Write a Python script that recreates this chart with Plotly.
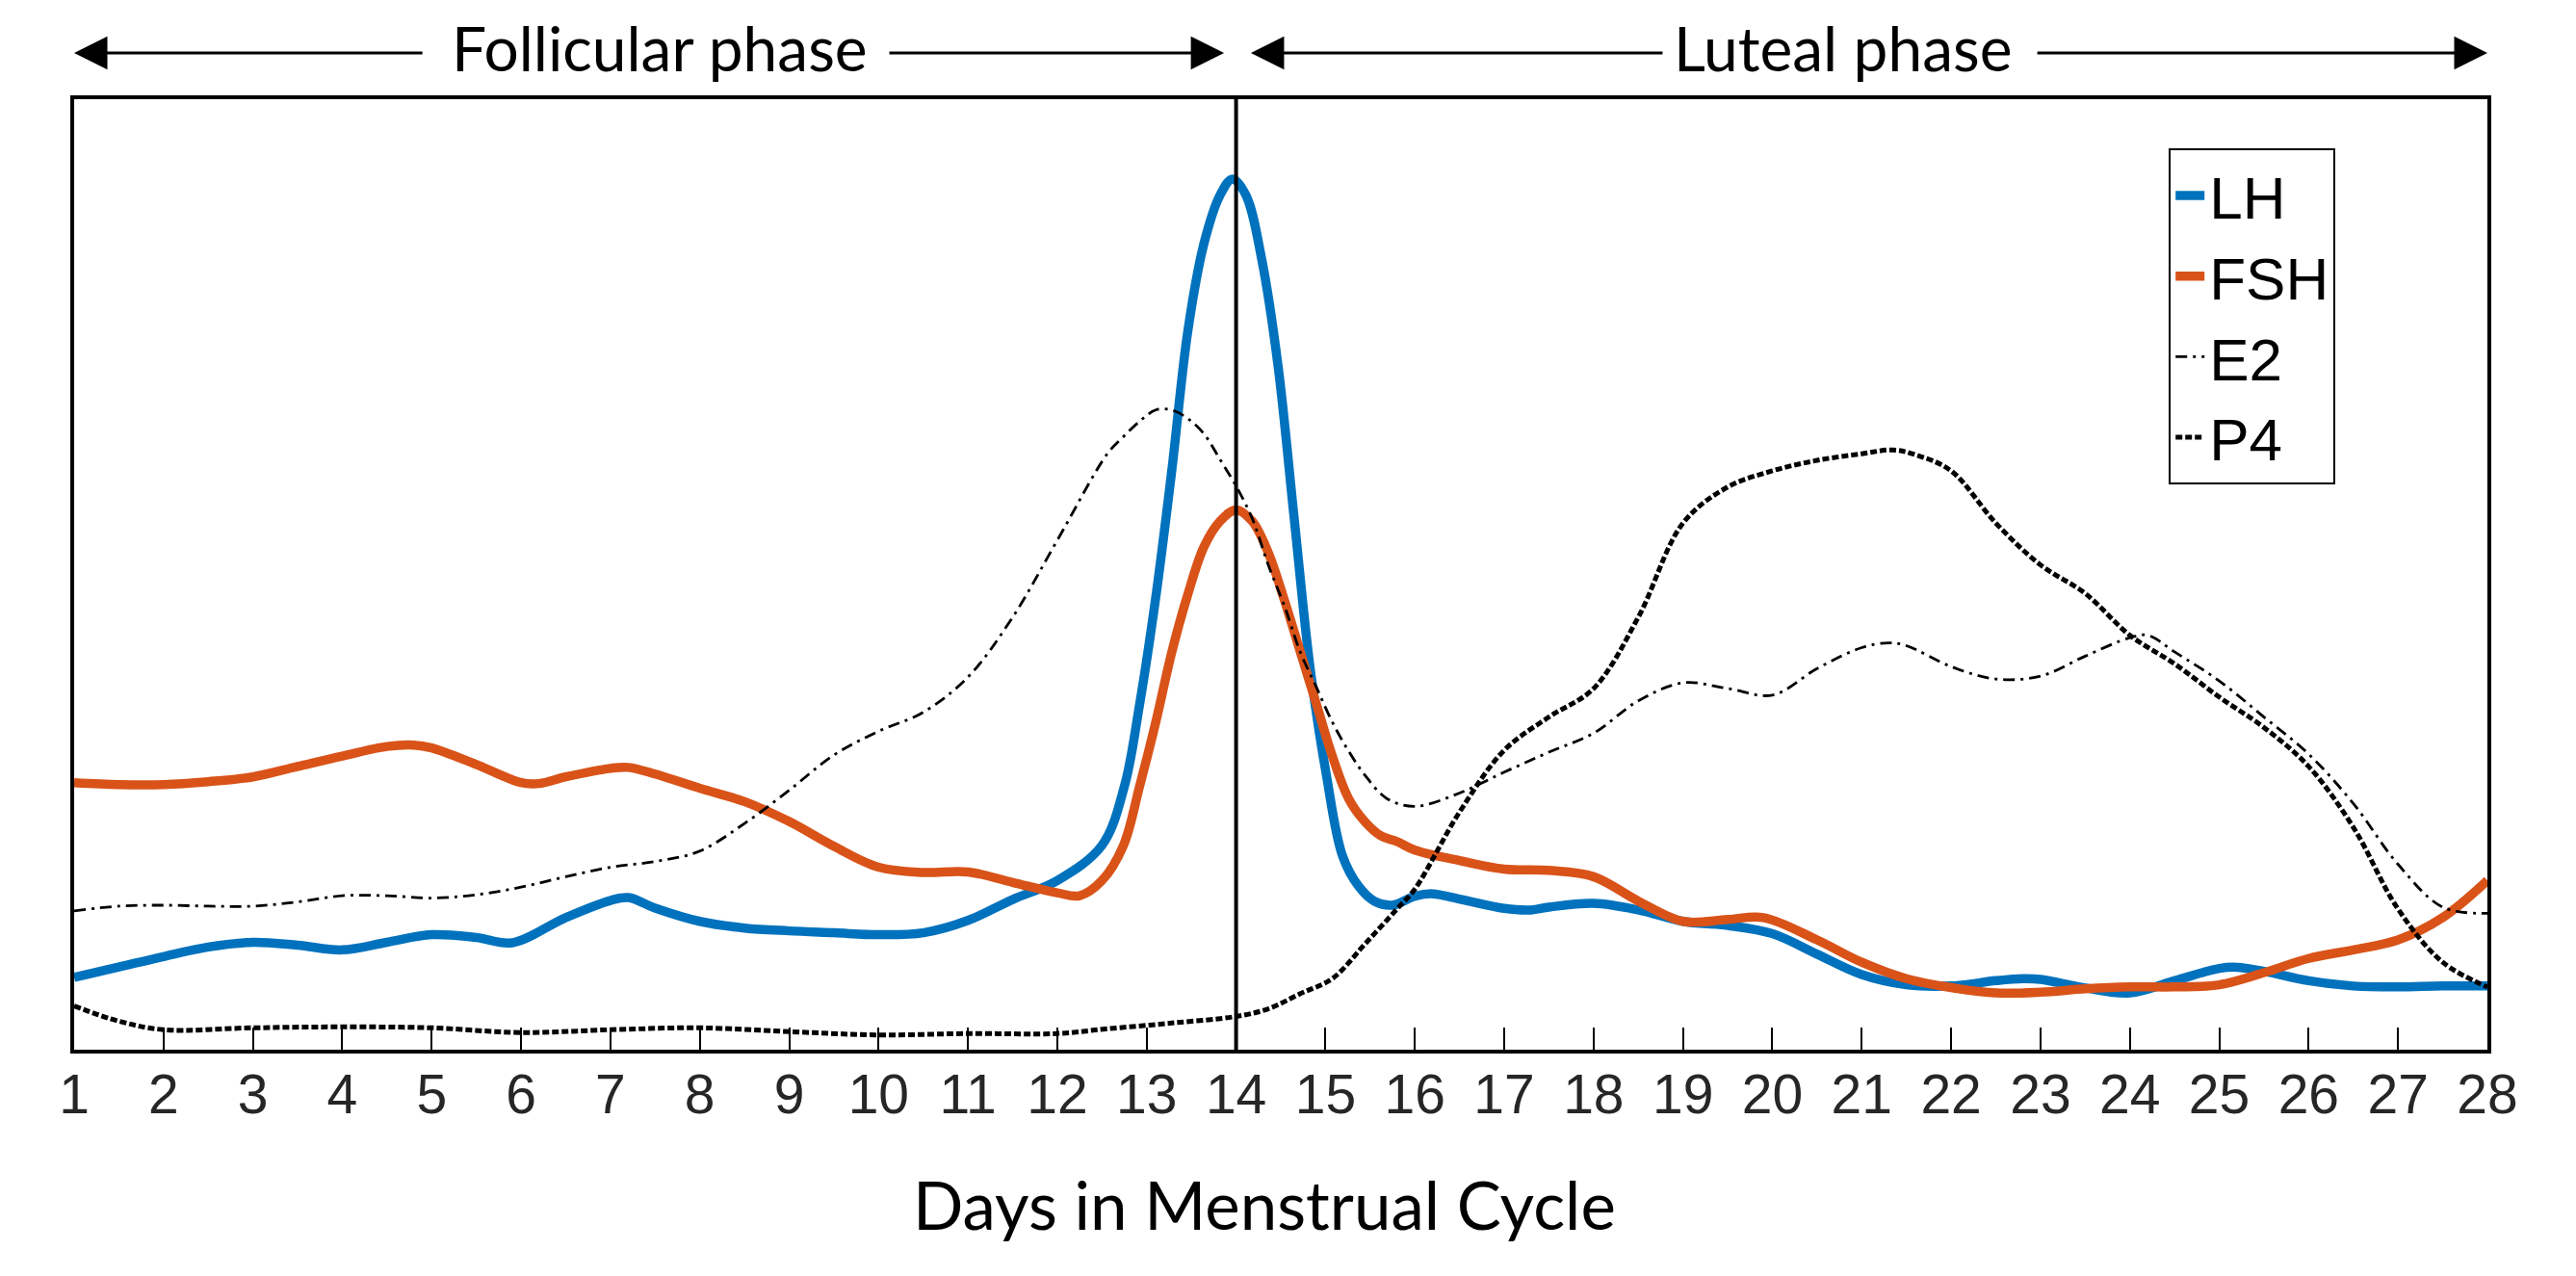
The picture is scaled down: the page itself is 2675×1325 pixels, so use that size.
import plotly.graph_objects as go

# hormone levels (relative units, 0 = bottom axis, 100 = top frame)
lh = [(1, 7.6), (1.5, 8.7), (2, 9.8), (2.5, 10.8), (3, 11.3), (3.5, 11.0), (4, 10.5),
      (4.5, 11.3), (5, 12.1), (5.5, 11.8), (5.9, 11.25), (6.5, 13.9), (7, 15.7),
      (7.2, 16.0), (7.5, 14.9), (8, 13.5), (8.5, 12.8), (9, 12.5), (9.5, 12.3),
      (10, 12.1), (10.5, 12.3), (11, 13.6), (11.5, 15.8), (12, 17.8), (12.5, 21.5),
      (12.75, 27.7), (12.92, 36.3), (13.1, 47.5), (13.28, 60.9), (13.46, 75.6),
      (13.64, 84.8), (13.82, 89.9), (13.96, 91.6), (14.11, 89.9), (14.29, 83.0),
      (14.47, 71.9), (14.65, 55.9), (14.83, 40.0), (15.01, 28.9), (15.19, 20.4),
      (15.37, 17.2), (15.55, 15.6), (15.75, 15.2), (16, 16.15), (16.2, 16.4),
      (16.5, 15.85), (17, 14.86), (17.3, 14.7), (17.5, 15.0), (18, 15.4), (18.5, 14.7),
      (19, 13.5), (19.5, 13.06), (20, 12.2), (20.5, 10.05), (21, 7.9), (21.5, 6.83),
      (22, 6.7), (22.5, 7.26), (22.8, 7.47), (23, 7.4), (23.5, 6.5), (24, 5.97),
      (24.5, 7.26), (25, 8.55), (25.2, 8.67), (25.5, 8.25), (26, 7.26), (26.5, 6.7),
      (27, 6.6), (27.5, 6.7), (28, 6.7)]

fsh = [(1, 28.1), (1.5, 27.9), (2, 27.9), (2.5, 28.2), (3, 28.7), (3.5, 29.8), (4, 30.9),
       (4.5, 31.9), (4.8, 32.05), (5, 31.75), (5.5, 30.0), (6, 28.1), (6.2, 28.0),
       (6.5, 28.7), (7, 29.6), (7.2, 29.7), (7.5, 29.0), (8, 27.5), (8.5, 26.1), (9, 24.0),
       (9.5, 21.4), (10, 19.2), (10.5, 18.65), (11, 18.7), (11.5, 17.6), (12, 16.5),
       (12.25, 16.2), (12.5, 17.8), (12.74, 21.5), (12.92, 27.7), (13.1, 34.4),
       (13.28, 41.8), (13.46, 47.9), (13.64, 52.9), (13.82, 55.6), (14, 56.8),
       (14.18, 55.6), (14.36, 52.3), (14.54, 47.3), (14.72, 41.8), (14.9, 36.3),
       (15.08, 30.8), (15.26, 26.4), (15.44, 24.0), (15.62, 22.5), (15.8, 21.9),
       (16, 21.0), (16.5, 19.9), (17, 19.0), (17.5, 18.86), (18, 18.2), (18.5, 15.64),
       (19, 13.5), (19.5, 13.7), (19.9, 13.9), (20.5, 11.55), (21, 9.2), (21.5, 7.47),
       (22, 6.53), (22.5, 5.97), (23, 6.05), (23.5, 6.4), (24, 6.6), (24.5, 6.6),
       (25, 6.83), (25.5, 8.1), (26, 9.6), (26.5, 10.5), (27, 11.55), (27.5, 13.9),
       (28, 17.8)]

e2 = [(1, 14.6), (1.5, 15.1), (2, 15.2), (2.5, 15.1), (3, 15.1), (3.5, 15.55), (4, 16.2),
      (4.5, 16.2), (5, 15.95), (5.5, 16.3), (6, 17.1), (6.5, 18.2), (7, 19.2), (7.5, 19.8),
      (8, 20.9), (8.5, 23.8), (9, 27.3), (9.5, 31.0), (10, 33.5), (10.5, 35.5), (11, 39.2),
      (11.5, 45.5), (12, 53.6), (12.56, 62.7), (12.74, 64.5), (12.92, 66.1), (13.1, 67.3),
      (13.28, 67.3), (13.46, 66.4), (13.64, 64.8), (13.82, 62.1), (14, 59.3),
      (14.18, 55.9), (14.36, 51.0), (14.54, 46.7), (14.72, 41.8), (14.9, 38.1),
      (15.08, 34.4), (15.26, 31.4), (15.44, 28.9), (15.69, 26.4), (16, 25.6),
      (16.5, 27.0), (17, 29.2), (17.5, 31.3), (18, 33.3), (18.5, 36.7), (19, 38.6),
      (19.5, 38.0), (20, 37.3), (20.5, 40.1), (21, 42.3), (21.3, 42.8), (21.5, 42.5),
      (22, 40.3), (22.5, 39.0), (23, 39.3), (23.5, 41.4), (24, 43.35), (24.2, 43.6),
      (24.5, 41.85), (25, 38.8), (25.5, 35.0), (26, 31.1), (26.5, 25.9), (27, 19.5),
      (27.5, 15.0), (28, 14.35)]

p4 = [(1, 4.6), (1.5, 3.0), (2, 2.1), (3, 2.3), (4, 2.4), (5, 2.3), (6, 1.8), (7, 2.1),
      (8, 2.3), (9, 1.9), (10, 1.55), (11, 1.7), (12, 1.7), (12.56, 2.2), (13.28, 2.8),
      (14, 3.5), (14.36, 4.3), (14.72, 5.9), (15.08, 7.5), (15.44, 11.1), (15.8, 14.8),
      (16, 16.9), (16.5, 25.0), (17, 31.5), (17.5, 35.0), (18, 38.0), (18.5, 45.5),
      (19, 55.4), (19.5, 59.2), (20, 60.9), (20.5, 62.0), (21, 62.7), (21.35, 63.1),
      (21.6, 62.6), (22, 60.9), (22.5, 55.4), (23, 51.0), (23.5, 48.0), (24, 43.6),
      (24.5, 40.6), (25, 37.1), (25.5, 33.9), (26, 29.8), (26.5, 23.4), (27, 14.8),
      (27.5, 9.2), (28, 6.6)]

days = list(range(1, 29))
ovulation_day = 14

fig = go.Figure()

series = [
    ("LH", lh, dict(color="#0072BD", width=9.5)),
    ("FSH", fsh, dict(color="#D95319", width=9.5)),
    ("E2", e2, dict(color="black", width=2.8, dash="12px,6px,3px,6px")),
    ("P4", p4, dict(color="black", width=5, dash="7px,3px")),
]
for name, pts, line in series:
    xs, ys = zip(*pts)
    fig.add_trace(go.Scatter(x=xs, y=ys, mode="lines", name=name,
                             line=dict(shape="spline", smoothing=1.0, **line)))

# ovulation divider
fig.add_shape(type="line", xref="x", yref="y domain", x0=ovulation_day, x1=ovulation_day,
              y0=0, y1=1, line=dict(color="black", width=4))

# phase arrows across the top
arrow_y = 1.0486
arrows = [(0.0, 0.1449), (0.4765, 0.3372), (0.4876, 0.6588), (1.0, 0.8129)]
for tip, tail in arrows:
    fig.add_annotation(x=tip, y=arrow_y, ax=tail, ay=arrow_y,
                       xref="x domain", yref="y domain", axref="x domain", ayref="y domain",
                       text="", showarrow=True, arrowhead=2, arrowsize=2.3,
                       arrowwidth=3, arrowcolor="black")

phase_font = dict(family="Lato", size=64, color="black")
fig.add_annotation(x=0.2426, y=1.0540, xref="x domain", yref="y domain",
                   text="Follicular phase", showarrow=False, font=phase_font,
                   xanchor="center", yanchor="middle")
fig.add_annotation(x=0.7331, y=1.0540, xref="x domain", yref="y domain",
                   text="Luteal phase", showarrow=False, font=phase_font,
                   xanchor="center", yanchor="middle")
fig.add_annotation(x=0.4932, y=-0.163, xref="x domain", yref="y domain",
                   text="Days in Menstrual Cycle", showarrow=False,
                   font=dict(family="Lato", size=69, color="black"),
                   xanchor="center", yanchor="middle")

fig.update_xaxes(range=[1, 28], tickvals=days, ticks="inside", ticklen=23, tickwidth=2,
                 tickcolor="black", showline=True, linecolor="black", linewidth=4,
                 mirror=True, showgrid=False, zeroline=False, ticklabelstandoff=-6,
                 tickfont=dict(family="Liberation Sans", size=57, color="#262626"))
fig.update_yaxes(range=[0, 100], showticklabels=False, ticks="", showline=True,
                 linecolor="black", linewidth=4, mirror=True, showgrid=False,
                 zeroline=False)

fig.update_layout(
    width=2675, height=1325,
    margin=dict(l=77, r=92, t=103, b=235),
    plot_bgcolor="white", paper_bgcolor="white",
    showlegend=True,
    legend=dict(x=0.868, y=0.948, xanchor="left", yanchor="top",
                bordercolor="black", borderwidth=2, bgcolor="white",
                font=dict(family="Liberation Sans", size=62, color="black"),
                tracegroupgap=0),
)

# drop the browser's default page margin so the figure sits at the window origin
fig.write_html("out.html", config={"displayModeBar": False},
               post_script="document.body.style.margin = '0';")
